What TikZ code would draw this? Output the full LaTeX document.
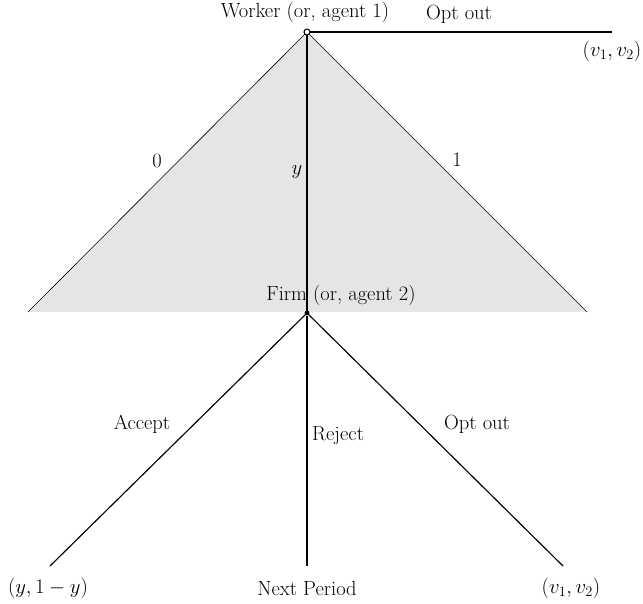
\documentclass[tikz,border=0pt]{standalone}
\begin{document}
\begin{tikzpicture}[x=1pt,y=-1pt,
  lbl/.style={font=\fontsize{20.5}{24}\selectfont, inner sep=0pt},
  thinedge/.style={line width=0.6pt},
  branch/.style={line width=1.15pt},
  opennode/.style={circle, draw, fill=white, line width=1pt, inner sep=0pt, minimum size=6pt},
  dotnode/.style={circle, fill=black, inner sep=0pt, minimum size=5pt}]
\useasboundingbox (0,0) rectangle (643,604);
\coordinate (L) at (28,312);
\coordinate (R) at (587,312);
\coordinate (T) at (307,32);
\fill[gray!20] (L) -- (T) -- (R) -- cycle;
\draw[thinedge] (L) -- (T) -- (R);
\coordinate (oo) at (612,32);
\coordinate (acc) at (50,566);
\coordinate (rej) at (307,566);
\coordinate (opt) at (563,566);
\draw[branch] (T) -- (307,313);
\draw[branch] (T) -- (oo);
\node[dotnode] (F) at (307,313) {};
\draw[branch] (F) -- (acc);
\draw[branch] (F) -- (rej);
\draw[branch] (F) -- (opt);
\node[opennode] (W) at (T) {};
\node[lbl] (wl) at (305,12) {Worker (or, agent 1)};
\node[lbl] (ool) at (459,14) {Opt out};
\node[lbl] (v1) at (612,51) {$(v_1,v_2)$};
\node[lbl] (z) at (157,161) {0};
\node[lbl] (yl) at (297,172) {$y$};
\node[lbl] (one) at (457,160) {1};
\node[lbl] (fl) at (341,295) {Firm (or, agent 2)};
\node[lbl] (al) at (142,424) {Accept};
\node[lbl, anchor=west] (rl) at (312,436) {Reject};
\node[lbl] (ol) at (477,424) {Opt out};
\node[lbl] (b1) at (48,588) {$(y,1-y)$};
\node[lbl] (b2) at (307,588) {Next Period};
\node[lbl] (b3) at (571,588) {$(v_1,v_2)$};
\end{tikzpicture}
\end{document}
